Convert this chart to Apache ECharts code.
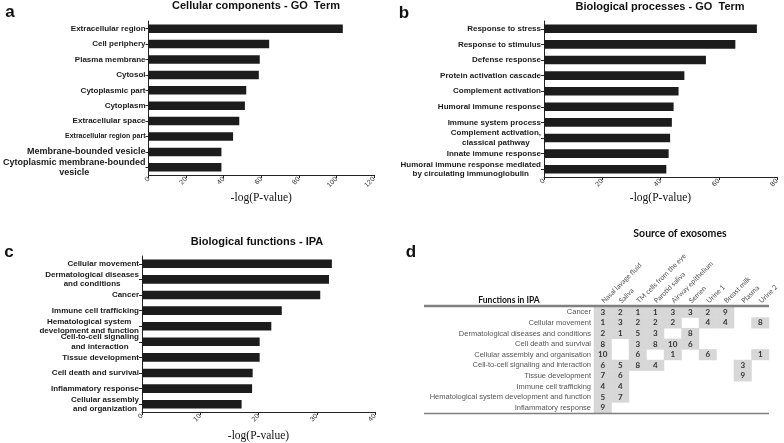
<!DOCTYPE html>
<html>
<head>
<meta charset="utf-8">
<script src="https://cdn.jsdelivr.net/npm/echarts@6/dist/echarts.min.js"></script>
<style>html,body{margin:0;padding:0;background:#fff;}#c{width:784px;height:443px;}</style>
</head>
<body>
<div id="c"></div>
<script>
// ---- Data ----
const ccCategories = ['Extracellular region', 'Cell periphery', 'Plasma membrane', 'Cytosol', 'Cytoplasmic part', 'Cytoplasm', 'Extracellular space', 'Extracellular region part', 'Membrane-bounded vesicle', 'Cytoplasmic membrane-bounded\nvesicle'];
const ccValues = [103.4, 64.2, 59.2, 58.7, 52.0, 51.3, 48.3, 45.0, 38.8, 38.8];

const bpCategories = ['Response to stress', 'Response to stimulus', 'Defense response', 'Protein activation cascade', 'Complement activation', 'Humoral immune response', 'Immune system process', 'Complement activation,\nclassical pathway', 'Innate immune response', 'Humoral immune response mediated\nby circulating immunoglobulin'];
const bpValues = [73.1, 65.7, 55.6, 48.2, 46.2, 44.5, 43.9, 43.3, 42.8, 42.0];

const bfCategories = ['Cellular movement', 'Dermatological diseases\nand conditions', 'Cancer', 'Immune cell trafficking', 'Hematological system\ndevelopment and function', 'Cell-to-cell signaling\nand interaction', 'Tissue development', 'Cell death and survival', 'Inflammatory response', 'Cellular assembly\nand organization'];
const bfValues = [32.6, 32.1, 30.6, 24.0, 22.2, 20.2, 20.2, 19.0, 18.9, 17.1];

const ccTicks = {min: 0, max: 120, interval: 20};
const bpTicks = {min: 0, max: 80, interval: 20};
const bfTicks = {min: 0, max: 40, interval: 10};

const exoSources = ['Nasal lavage fluid', 'Saliva', 'TM cells from the eye', 'Parotid saliva', 'Airway epithelium', 'Semen', 'Urine 1', 'Breast milk', 'Plasma', 'Urine 2'];
const ipaFunctions = ['Cancer', 'Cellular movement', 'Dermatological diseases and conditions', 'Cell death and survival', 'Cellular assembly and organisation', 'Cell-to-cell signaling and interaction', 'Tissue development', 'Immune cell trafficking', 'Hematological system development and function', 'Inflammatory response'];
const rankCancer        = [3, 2, 1, 1, 3, 3, 2, 9, null, null];
const rankMovement      = [1, 3, 2, 2, 2, null, 4, 4, null, 8];
const rankDermatological= [2, 1, 5, 3, null, 8, null, null, null, null];
const rankCellDeath     = [8, null, 3, 8, 10, 6, null, null, null, null];
const rankAssembly      = [10, null, 6, null, 1, null, 6, null, null, 1];
const rankCellToCell    = [6, 5, 8, 4, null, null, null, null, 3, null];
const rankTissue        = [7, 6, null, null, null, null, null, null, 9, null];
const rankImmune        = [4, 4, null, null, null, null, null, null, null, null];
const rankHemato        = [5, 7, null, null, null, null, null, null, null, null];
const rankInflam        = [9, null, null, null, null, null, null, null, null, null];
const rankRows = [rankCancer, rankMovement, rankDermatological, rankCellDeath, rankAssembly, rankCellToCell, rankTissue, rankImmune, rankHemato, rankInflam];

// ---- Styles (kept apart from data) ----
const ccLabelSizes = [8, 8, 8, 8, 8, 8, 8, 7, 9, 9];
const SANS = '"Liberation Sans", Arial, sans-serif';

function richFor() {
  const r = {};
  [7, 8, 9].forEach(s => {
    r['s' + s] = {fontSize: s, fontWeight: 'bold', fontFamily: SANS, color: '#1a1a1a', lineHeight: s + 1.5, align: 'center'};
  });
  return r;
}
function labelFormatter(value) {
  if (value.indexOf('\n') < 0) return value;
  return value.split('\n').map(l => '{s8|' + l + '}').join('\n');
}
function ccFormatter(value, index) {
  const s = ccLabelSizes[index];
  return value.split('\n').map(l => '{s' + s + '|' + l + '}').join('\n');
}

const heatData = [];
rankRows.forEach((row, yi) => row.forEach((v, xi) => { if (v !== null) heatData.push([xi, yi, v]); }));

function catAxis(gi, cats, fmt) {
  return {
    type: 'category', gridIndex: gi, data: cats, inverse: true,
    axisLine: {show: true, lineStyle: {color: '#222', width: 1}},
    axisTick: {show: true, alignWithLabel: true, length: 3, lineStyle: {color: '#222'}},
    axisLabel: {
      margin: 3, fontSize: 8, fontWeight: 'bold', fontFamily: SANS, color: '#1a1a1a',
      interval: 0, lineHeight: 9.5,
      formatter: fmt, rich: richFor()
    }
  };
}
function valAxis(gi, t, gap) {
  return {
    type: 'value', gridIndex: gi, min: t.min, max: t.max, interval: t.interval,
    name: '-log(P-value)', nameLocation: 'middle', nameGap: gap,
    nameTextStyle: {fontFamily: '"Liberation Serif", "Times New Roman", serif', fontSize: 11.5, color: '#111'},
    splitLine: {show: false},
    axisLine: {show: true, lineStyle: {color: '#222', width: 1}},
    axisTick: {show: true, length: 3, lineStyle: {color: '#222'}},
    axisLabel: {rotate: 45, fontSize: 7, color: '#333', fontFamily: SANS, margin: 3}
  };
}

const bar = (xi, yi, vals) => ({
  type: 'bar', xAxisIndex: xi, yAxisIndex: yi, data: vals, barWidth: '55%',
  itemStyle: {color: '#1c1c1c'}, silent: true
});

const option = {
  animation: false,
  grid: [
    {left: 143, top: 21, width: 231, height: 154},
    {left: 544, top: 21, width: 233, height: 156},
    {left: 142, top: 256, width: 233, height: 156},
    {left: 594, top: 307, width: 175, height: 106}
  ],
  xAxis: [
    valAxis(0, ccTicks, 16),
    valAxis(1, bpTicks, 15),
    valAxis(2, bfTicks, 18),
    {
      type: 'category', gridIndex: 3, data: exoSources, position: 'top',
      axisLine: {show: false}, axisTick: {show: false}, splitLine: {show: false},
      axisLabel: {rotate: -45, interval: 0, fontSize: 7, color: '#555', fontFamily: 'Lato, sans-serif', margin: 5}
    }
  ],
  yAxis: [
    catAxis(0, ccCategories, ccFormatter),
    catAxis(1, bpCategories, labelFormatter),
    catAxis(2, bfCategories, labelFormatter),
    {
      type: 'category', gridIndex: 3, data: ipaFunctions, inverse: true,
      axisLine: {show: false}, axisTick: {show: false}, splitLine: {show: false},
      axisLabel: {interval: 0, fontSize: 7.5, color: '#555', fontFamily: SANS, margin: 3}
    }
  ],
  visualMap: {show: false, seriesIndex: 3, min: 0, max: 10, inRange: {color: ['#d7d7d7', '#d7d7d7']}},
  series: [
    bar(0, 0, ccValues),
    bar(1, 1, bpValues),
    bar(2, 2, bfValues),
    {
      type: 'heatmap', xAxisIndex: 3, yAxisIndex: 3, data: heatData, silent: true,
      itemStyle: {borderWidth: 0},
      label: {show: true, formatter: p => p.value[2], fontSize: 8, fontWeight: 'bold', color: '#333', fontFamily: 'Lato, sans-serif'}
    }
  ],
  graphic: [
    {type: 'text', x: 10, y: 12, style: {text: 'a', font: 'bold 17px ' + SANS, fill: '#111', textAlign: 'center', textVerticalAlign: 'middle'}},
    {type: 'text', x: 404, y: 13, style: {text: 'b', font: 'bold 17px ' + SANS, fill: '#111', textAlign: 'center', textVerticalAlign: 'middle'}},
    {type: 'text', x: 9, y: 252, style: {text: 'c', font: 'bold 17px ' + SANS, fill: '#111', textAlign: 'center', textVerticalAlign: 'middle'}},
    {type: 'text', x: 411, y: 252, style: {text: 'd', font: 'bold 17px ' + SANS, fill: '#111', textAlign: 'center', textVerticalAlign: 'middle'}},
    {type: 'text', x: 256, y: 6, style: {text: 'Cellular components - GO  Term', font: 'bold 11px ' + SANS, fill: '#111', textAlign: 'center', textVerticalAlign: 'middle'}},
    {type: 'text', x: 660, y: 7, style: {text: 'Biological processes - GO  Term', font: 'bold 11px ' + SANS, fill: '#111', textAlign: 'center', textVerticalAlign: 'middle'}},
    {type: 'text', x: 257, y: 242, style: {text: 'Biological functions - IPA', font: 'bold 11px ' + SANS, fill: '#111', textAlign: 'center', textVerticalAlign: 'middle'}},
    {type: 'text', x: 680, y: 234, style: {text: 'Source of exosomes', font: 'bold 10.5px Lato, sans-serif', fill: '#111', textAlign: 'center', textVerticalAlign: 'middle'}},
    {type: 'text', x: 509, y: 300, style: {text: 'Functions in IPA', font: 'bold 8.5px Lato, sans-serif', fill: '#111', textAlign: 'center', textVerticalAlign: 'middle'}},
    {type: 'line', shape: {x1: 424, y1: 306, x2: 769, y2: 306}, style: {stroke: '#808080', lineWidth: 2.5}, z: 100},
    {type: 'line', shape: {x1: 424, y1: 413.5, x2: 769, y2: 413.5}, style: {stroke: '#808080', lineWidth: 1.5}, z: 100}
  ]
};

const chart = echarts.init(document.getElementById('c'), null, {renderer: 'canvas'});
chart.setOption(option);
</script>
</body>
</html>
